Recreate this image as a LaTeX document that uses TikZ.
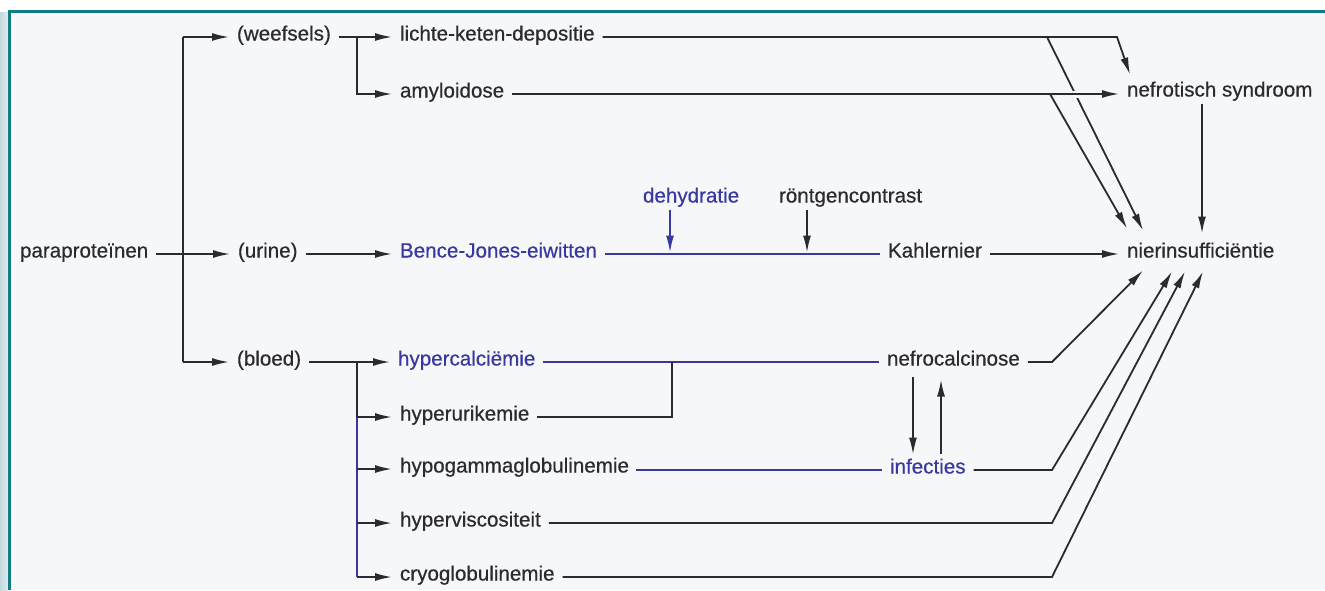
\documentclass[tikz,border=0pt]{standalone}
\usepackage{fontspec}
\setmainfont{Liberation Sans}
\usetikzlibrary{arrows.meta,calc}
\definecolor{frame}{HTML}{127C86}
\definecolor{ink}{HTML}{2A2A30}
\definecolor{blueink}{HTML}{3838A0}
\definecolor{bg}{HTML}{F6F7F9}
\definecolor{strip}{HTML}{C4D9DE}
\begin{document}
\begin{tikzpicture}[x=1pt,y=-1pt,
  lbl/.style={inner sep=0pt, outer xsep=8pt, outer ysep=1pt, anchor=west,
    text height=13pt, text depth=6pt, text=ink,
    font=\fontsize{20.6}{24}\selectfont\addfontfeature{FakeBold=0.5}},
  blu/.style={lbl, text=blueink},
  ln/.style={draw=ink, line width=1.8pt},
  bln/.style={ln, draw=blueink},
  arr/.style={ln, -{Latex[length=17pt,width=8pt]}}]
\useasboundingbox (0,0) rectangle (1325,590);
% background and frame
\fill[white] (0,0) rectangle (1325,590);
\fill[bg] (10,12) rectangle (1325,590);
\shade[left color=strip, right color=strip!50!white] (0,12) rectangle (8,590);
\fill[frame] (8,10) rectangle (1325,13);
\fill[frame] (8,10) rectangle (11,590);

% nodes
\node[lbl] (para)  at (12,254)  {paraproteïnen};
\node[lbl] (weef)  at (229,37)  {(weefsels)};
\node[lbl] (urine) at (230,254) {(urine)};
\node[lbl] (bloed) at (229,362) {(bloed)};
\node[lbl] (lkd)   at (392,37)  {lichte-keten-depositie};
\node[lbl] (amy)   at (392,94)  {amyloidose};
\node[blu] (bj)    at (392,254) {Bence-Jones-eiwitten};
\node[blu] (dehy)  at (635,199) {dehydratie};
\node[lbl] (rontg) at (771,199) {röntgencontrast};
\node[lbl] (kahl)  at (880,254) {Kahlernier};
\node[lbl] (nier)  at (1119,254) {nierinsufficiëntie};
\node[lbl] (nefs)  at (1119,93) {nefrotisch syndroom};
\node[blu] (hcal)  at (390,362) {hypercalciëmie};
\node[lbl] (huri)  at (392,417) {hyperurikemie};
\node[lbl] (hgam)  at (392,469) {hypogammaglobulinemie};
\node[lbl] (hvis)  at (392,523) {hyperviscositeit};
\node[lbl] (cryo)  at (392,577) {cryoglobulinemie};
\node[lbl] (nefc)  at (879,362) {nefrocalcinose};
\node[blu] (inf)   at (882,470) {infecties};

% helper x positions
\coordinate (tx) at (183,0);
\coordinate (wx) at (357,0);
\coordinate (ux) at (672,0);
\coordinate (sx) at (1052,0);
\coordinate (k1) at (1117,0);
\coordinate (k2) at (1047,0);
\coordinate (k3) at (1050,0);

% trunk
\draw[arr] (para.east) -- (urine.west);
\draw[ln] (weef.west -| tx) -- (bloed.west -| tx);
\draw[arr] (weef.west -| tx) -- (weef.west);
\draw[arr] (bloed.west -| tx) -- (bloed.west);

% weefsels branch
\draw[arr] (weef.east) -- (lkd.west);
\draw[arr] (weef.east -| wx) |- (amy.west);

% urine branch
\draw[arr] (urine.east) -- (bj.west);
\draw[bln] (bj.east) -- (kahl.west);
\coordinate (dd) at ($(dehy.south west)+(35,0)$);
\coordinate (rr) at ($(rontg.south west)+(36,0)$);
\draw[arr, draw=blueink, shorten >=1.5pt] (dd) -- (dd |- bj.east);
\draw[arr, shorten >=1.5pt] (rr) -- (rr |- bj.east);
\draw[arr] (kahl.east) -- (nier.west);

% upper connections to nefrotisch syndroom / nierinsufficientie
\draw[arr] (lkd.east) -- (lkd.east -| k1) -- ($(nefs.north west)+(11,-8)$);
\draw[arr] (lkd.east -| k2) -- ($(nier.north west)+(24,-13)$);
\draw[bg, line width=7pt] ($(amy.east -| k2)+(18,0)$) -- ++(20,0);
\draw[arr] (amy.east) -- (amy.east -| nefs.west);
\draw[arr] (amy.east -| k3) -- ($(nier.north west)+(8,-15)$);
\draw[arr] ($(nefs.south west)+(83,0)$) -- ($(nier.north west)+(83,-10)$);

% bloed branch
\draw[arr] (bloed.east) -- (hcal.west);
\draw[ln] (bloed.east -| wx) -- (huri.west -| wx);
\draw[bln] (huri.west -| wx) -- (cryo.west -| wx);
\draw[arr] (huri.west -| wx) -- (huri.west);
\draw[arr] (hgam.west -| wx) -- (hgam.west);
\draw[arr] (hvis.west -| wx) -- (hvis.west);
\draw[arr] (cryo.west -| wx) -- (cryo.west);

\draw[bln] (hcal.east) -- (nefc.west);
\draw[ln] (huri.east) -- (huri.east -| ux) -- (hcal.east -| ux);
\draw[bln] (hgam.east) -- (inf.west -| hgam.east) -- (inf.west);

% nefrocalcinose <-> infecties
\draw[arr] ($(nefc.south west)+(34,4)$) -- ($(inf.north west)+(31,-5)$);
\draw[arr] ($(inf.north west)+(59,-6)$) -- ($(nefc.south west)+(62,7)$);

% lower diagonals to nierinsufficientie
\draw[arr] (nefc.east) -- (nefc.east -| sx) -- ($(nier.south west)+(24,6)$);
\draw[arr] (inf.east) -- (inf.east -| sx) -- ($(nier.south west)+(53,7)$);
\draw[arr] (hvis.east) -- (hvis.east -| sx) -- ($(nier.south west)+(66,7)$);
\draw[arr] (cryo.east) -- (cryo.east -| sx) -- ($(nier.south west)+(84,7)$);
\end{tikzpicture}
\end{document}
